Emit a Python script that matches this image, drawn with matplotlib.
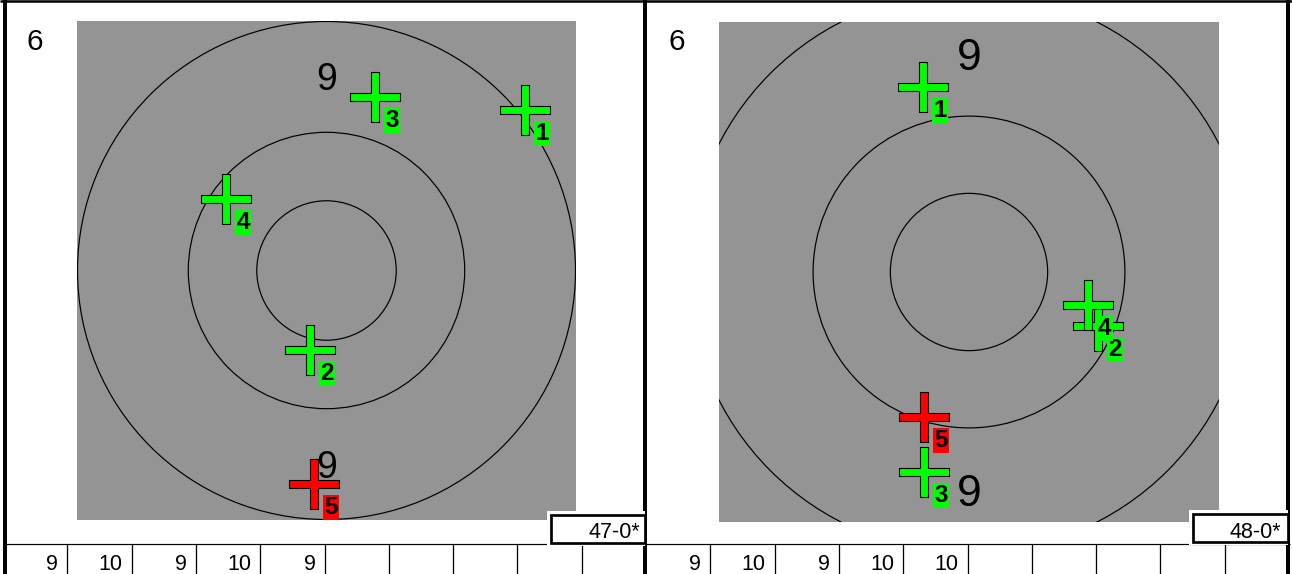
import matplotlib
matplotlib.use('Agg')
import matplotlib.pyplot as plt
from matplotlib.patches import Circle, Rectangle
from matplotlib.path import Path

W, H, DPI = 1292, 574, 100
FONT = 'Liberation Sans'

# ---------------- data ----------------
ring_radii = [100.0, 55.5, 28.0]          # outer, middle, inner circle
ring_label = "9"
series_label = "6"

left_view = 100.2                          # half-width of view (data units)
left_shot_x = [79.7, -6.6, 19.5, -40.4, -5.0]
left_shot_y = [64.5, -31.9, 69.7, 28.7, -85.7]
left_shot_last = [False, False, False, False, True]
left_scores = [9, 10, 9, 10, 9]
left_total = "47-0*"

right_view = 89.0
right_shot_x = [-16.4, 45.9, -16.0, 42.2, -16.0]
right_shot_y = [65.8, -19.2, -71.2, -11.7, -51.6]
right_shot_last = [False, False, False, False, True]
right_scores = [9, 10, 9, 10, 10]
right_total = "48-0*"

n_cells = 10

# ---------------- styles ----------------
GRAY = '#949494'
GREEN = '#00ff00'
RED = '#ff0000'


def pt(px):
    return px * 72.0 / DPI


t = 0.17
plus = Path([(-t, 1), (t, 1), (t, t), (1, t), (1, -t), (t, -t), (t, -1), (-t, -1),
             (-t, -t), (-1, -t), (-1, t), (-t, t), (-t, 1)], closed=True)

fig = plt.figure(figsize=(W / DPI, H / DPI), dpi=DPI)

# background layout axes in pixel coordinates
bg = fig.add_axes([0, 0, 1, 1])
bg.set_xlim(0, W)
bg.set_ylim(H, 0)
bg.axis('off')

kw = dict(color='black', solid_capstyle='butt')
bg.plot([0, W], [1, 1], lw=pt(2.5), **kw)
bg.plot([4.7, 4.7], [0, H], lw=pt(4), **kw)
bg.plot([645.3, 645.3], [0, H], lw=pt(4), **kw)
bg.plot([1288, 1288], [0, H], lw=pt(4), **kw)
bg.plot([3, 1290], [544, 544], lw=pt(1.2), **kw)

panels = [
    dict(x0=3, box=(77, 21, 499), view=left_view, sx=left_shot_x, sy=left_shot_y,
         last=left_shot_last, scores=left_scores, total=left_total, lab_fs=27,
         label_x=27, tbox=(550.7, 514.7, 645.3, 543.0), tx=640),
    dict(x0=646, box=(719, 22, 500), view=right_view, sx=right_shot_x, sy=right_shot_y,
         last=right_shot_last, scores=right_scores, total=right_total, lab_fs=32,
         label_x=668, tbox=(1193.0, 513.7, 1288, 542.0), tx=1281),
]

cell_w = 64.3
ov = fig.add_axes([0, 0, 1, 1], zorder=10)
ov.set_xlim(0, W)
ov.set_ylim(H, 0)
ov.axis('off')
ov.patch.set_alpha(0)

for p in panels:
    # score cells
    for k in range(1, n_cells):
        xx = p['x0'] + cell_w * k
        bg.plot([xx, xx], [544, H], lw=pt(1.3), **kw)
    for k, s in enumerate(p['scores']):
        right = p['x0'] + cell_w * (k + 1)
        bg.text(right - 9, 570.5, str(s), ha='right', va='baseline', fontsize=15.5,
                family=FONT, color='black')
    bg.text(p['label_x'], 50, series_label, ha='left', va='baseline', fontsize=21.5,
            family=FONT, color='black')

    # target
    bx, by, bs = p['box']
    ax = fig.add_axes([bx / W, (H - by - bs) / H, bs / W, bs / H], zorder=2)
    ax.set_facecolor(GRAY)
    ax.set_xlim(-p['view'], p['view'])
    ax.set_ylim(-p['view'], p['view'])
    ax.set_xticks([])
    ax.set_yticks([])
    for sp in ax.spines.values():
        sp.set_visible(False)
    for r in ring_radii:
        ax.add_patch(Circle((0, 0), r, fill=False, ec='black', lw=pt(1.2), zorder=1))

    z = 3
    for i, (x, y, last) in enumerate(zip(p['sx'], p['sy'], p['last'])):
        c = RED if last else GREEN
        ax.plot([x], [y], marker=plus, ms=35.5, mfc=c, mec='black', mew=pt(1.1),
                linestyle='none', zorder=z)
        ax.annotate(str(i + 1), (x, y), xytext=(10.5, -12), textcoords='offset pixels',
                    ha='left', va='top', fontsize=17.5, fontweight='bold', family=FONT,
                    color='black', clip_on=True, zorder=z + 1,
                    bbox=dict(boxstyle='square,pad=0.05', fc=c, ec='none'))
        z += 2

    ymid = (ring_radii[0] + ring_radii[1]) / 2
    em = p['lab_fs'] * DPI / 72.0
    for sign in (1, -1):
        ax.annotate(ring_label, (0, sign * ymid), xytext=(0, -0.358 * em),
                    textcoords='offset pixels', ha='center', va='baseline',
                    fontsize=p['lab_fs'], family=FONT, color='black', zorder=z + 5)

    # total box
    x1, y1, x2, y2 = p['tbox']
    ov.add_patch(Rectangle((x1 - 4, y1 - 4), x2 - x1 + 4, y2 - y1 + 7, fc='white',
                           ec='none', zorder=1))
    ov.add_patch(Rectangle((x1, y1), x2 - x1, y2 - y1, fc='white', ec='black',
                           lw=pt(2.7), zorder=2))
    ov.text(p['tx'], 538.3, p['total'], ha='right', va='baseline', fontsize=15.5,
            family=FONT, color='black', zorder=3)

fig.savefig('out.png', dpi=DPI)
